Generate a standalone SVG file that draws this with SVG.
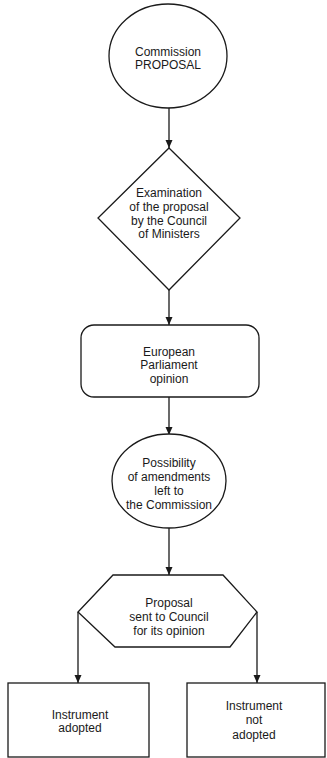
<svg xmlns="http://www.w3.org/2000/svg" width="327" height="758" viewBox="0 0 327 758">
<style>
.shape{fill:#fff;stroke:#1a1a1a;stroke-width:1.3}
.edge{fill:none;stroke:#1a1a1a;stroke-width:1.3}
text{font-family:"Liberation Sans",Arial,sans-serif;font-size:12px;fill:#1a1a1a;text-anchor:middle}
</style>
<defs>
<marker id="arr" viewBox="0 0 8 10" refX="8" refY="5" markerWidth="8" markerHeight="10" markerUnits="userSpaceOnUse" orient="auto">
<path d="M0,1.5 L8,5 L0,8.5 Z" fill="#1a1a1a"/>
</marker>
</defs>
<rect width="327" height="758" fill="#fff"/>
<g id="connectors">
<line class="edge" x1="169" y1="108" x2="169" y2="148" marker-end="url(#arr)"/>
<line class="edge" x1="169" y1="290" x2="169" y2="325" marker-end="url(#arr)"/>
<line class="edge" x1="169" y1="397" x2="169" y2="435" marker-end="url(#arr)"/>
<line class="edge" x1="169" y1="528" x2="169" y2="575" marker-end="url(#arr)"/>
<line class="edge" x1="78" y1="612" x2="78" y2="683" marker-end="url(#arr)"/>
<line class="edge" x1="257" y1="612" x2="257" y2="683" marker-end="url(#arr)"/>
</g>
<g id="commission-proposal">
<ellipse class="shape" cx="168" cy="56" rx="59" ry="52"/>
<text x="168" y="56">Commission</text>
<text x="168" y="69">PROPOSAL</text>
</g>
<g id="examination">
<polygon class="shape" points="169,148 240,218 169,290 98,218"/>
<text x="169" y="197">Examination</text>
<text x="169" y="211">of the proposal</text>
<text x="169" y="225">by the Council</text>
<text x="169" y="238">of Ministers</text>
</g>
<g id="parliament-opinion">
<rect class="shape" x="81" y="325" width="178" height="72" rx="13"/>
<text x="169" y="356">European</text>
<text x="169" y="369">Parliament</text>
<text x="169" y="383">opinion</text>
</g>
<g id="amendments">
<ellipse class="shape" cx="169" cy="481" rx="57" ry="47"/>
<text x="169" y="467">Possibility</text>
<text x="169" y="481">of amendments</text>
<text x="169" y="495">left to</text>
<text x="169" y="509">the Commission</text>
</g>
<g id="sent-to-council">
<polygon class="shape" points="113,575 223,575 257,612 230,647 115,647 78,612"/>
<text x="169" y="607">Proposal</text>
<text x="169" y="621">sent to Council</text>
<text x="169" y="635">for its opinion</text>
</g>
<g id="adopted">
<rect class="shape" x="8" y="683" width="141" height="74"/>
<text x="80" y="719">Instrument</text>
<text x="80" y="732">adopted</text>
</g>
<g id="not-adopted">
<rect class="shape" x="187" y="683" width="138" height="74"/>
<text x="254" y="710">Instrument</text>
<text x="254" y="724">not</text>
<text x="254" y="739">adopted</text>
</g>
</svg>
